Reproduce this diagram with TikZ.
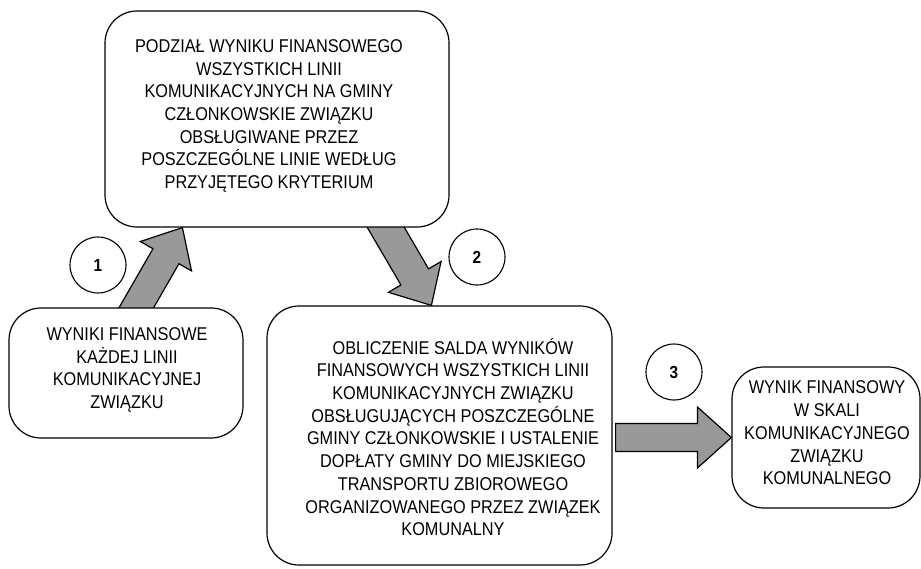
\documentclass[tikz,border=0pt]{standalone}
\usepackage{fontspec}
\setmainfont[FakeStretch=0.88]{Liberation Sans}
\usetikzlibrary{calc,backgrounds}
\definecolor{arrowgray}{RGB}{153,153,153}
\tikzset{
 box/.style={draw, line width=1.2pt, rounded corners=32pt, fill=white, inner sep=0pt},
 txt/.style={align=center, font=\fontsize{18.5}{22.7}\selectfont, inner sep=0pt},
 num/.style={draw, circle, line width=1.1pt, minimum size=56pt, inner sep=0pt, font=\fontsize{17.5}{20}\selectfont\bfseries, fill=white},
 blk/.style={draw, line width=1.2pt, fill=arrowgray, line join=miter},
}
\newcommand\blockarrow[5]{%
 \coordinate (h) at ($(#2)!#5!(#1)$);
 \draw[blk] ($(#1)!#3!90:(#2)$) -- ($(h)!#3!-90:(#1)$) -- ($(h)!#4!-90:(#1)$) -- (#2) -- ($(h)!#4!90:(#1)$) -- ($(h)!#3!90:(#1)$) -- ($(#1)!#3!-90:(#2)$) -- cycle;
}
\begin{document}
\begin{tikzpicture}[x=1pt,y=-1pt]
\useasboundingbox (0,0) rectangle (921,568);
% boxes
\node[box, minimum width=344pt, minimum height=216pt] (top) at (277,119) {};
\node[txt] (toptext) at (269,116) {PODZIAŁ WYNIKU FINANSOWEGO\\WSZYSTKICH LINII\\KOMUNIKACYJNYCH NA GMINY\\CZŁONKOWSKIE ZWIĄZKU\\OBSŁUGIWANE PRZEZ\\POSZCZEGÓLNE LINIE WEDŁUG\\PRZYJĘTEGO KRYTERIUM};
\node[box, minimum width=234pt, minimum height=130pt] (left) at (126,373) {};
\node[txt] (lefttext) at (127,370) {WYNIKI FINANSOWE\\KAŻDEJ LINII\\KOMUNIKACYJNEJ\\ZWIĄZKU};
\node[box, minimum width=345pt, minimum height=259pt] (mid) at (439.5,435.5) {};
\node[txt] (midtext) at (453,437) {OBLICZENIE SALDA WYNIKÓW\\FINANSOWYCH WSZYSTKICH LINII\\KOMUNIKACYJNYCH ZWIĄZKU\\OBSŁUGUJĄCYCH POSZCZEGÓLNE\\GMINY CZŁONKOWSKIE I USTALENIE\\DOPŁATY GMINY DO MIEJSKIEGO\\TRANSPORTU ZBIOROWEGO\\ORGANIZOWANEGO PRZEZ ZWIĄZEK\\KOMUNALNY};
\node[box, minimum width=188pt, minimum height=141pt] (right) at (826,437.5) {};
\node[txt] (righttext) at (827,433) {WYNIK FINANSOWY\\W SKALI\\KOMUNIKACYJNEGO\\ZWIĄZKU\\KOMUNALNEGO};
% circles
\node[num] (c1) at (98,265) {1};
\node[num] (c2) at (477,257) {2};
\node[num] (c3) at (674,372) {3};
% arrows
\coordinate (s1) at ($(left.north west)+(121.2,12)$);
\coordinate (e1) at ($(top.south west)+(78,0)$);
\coordinate (s2) at ($(top.south west)+(274.5,-12)$);
\coordinate (e2) at ($(mid.north west)+(165,0)$);
\coordinate (s3) at ($(mid.east)+(3,2)$);
\coordinate (e3) at (right.west);
\begin{scope}[on background layer]
\blockarrow{s1}{e1}{15pt}{29.5pt}{33pt}
\blockarrow{s2}{e2}{16pt}{30.5pt}{33pt}
\blockarrow{s3}{e3}{14pt}{30.5pt}{34pt}
\end{scope}
\end{tikzpicture}
\end{document}
